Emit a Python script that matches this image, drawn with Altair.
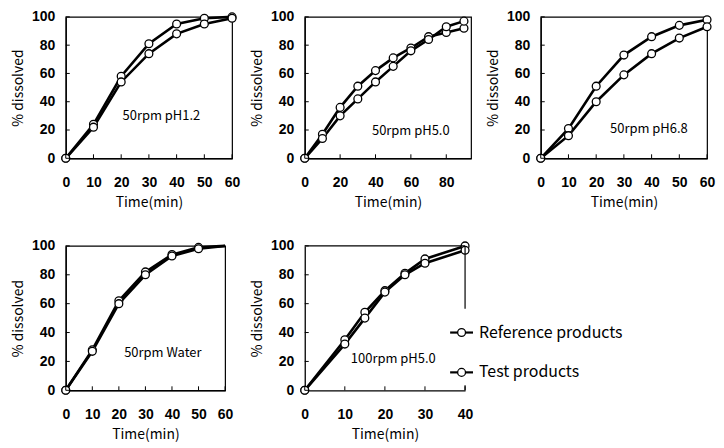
import altair as alt
import pandas as pd

# ---------------- data ----------------
series_names = ["Reference products", "Test products"]

p1_time = [0, 10, 20, 30, 40, 50, 60]
p1_ref = [0, 24, 58, 81, 95, 99, 100]
p1_test = [0, 22, 54, 74, 88, 95, 99]

p2_time = [0, 10, 20, 30, 40, 50, 60, 70, 80, 90]
p2_ref = [0, 17, 36, 51, 62, 71, 78, 86, 89, 92]
p2_test = [0, 14, 30, 42, 54, 65, 76, 84, 93, 97]

p3_time = [0, 10, 20, 30, 40, 50, 60]
p3_ref = [0, 21, 51, 73, 86, 94, 98]
p3_test = [0, 16, 40, 59, 74, 85, 93]

p4_time = [0, 10, 20, 30, 40, 50, 60]
p4_ref = [0, 28, 62, 82, 94, 99, 100]
p4_test = [0, 27, 60, 80, 93, 98, 100]

p5_time = [0, 10, 15, 20, 25, 30, 40]
p5_ref = [0, 35, 54, 69, 81, 91, 100]
p5_test = [0, 32, 50, 68, 80, 88, 97]

panel_labels = ["50rpm  pH1.2", "50rpm  pH5.0", "50rpm  pH6.8", "50rpm  Water", "100rpm  pH5.0"]
x_ticks_60 = [0, 10, 20, 30, 40, 50, 60]
x_ticks_90 = [0, 20, 40, 60, 80]
x_ticks_40 = [0, 10, 20, 30, 40]
y_ticks = [0, 20, 40, 60, 80, 100]

LABEL_FONT = "Liberation Sans"
TEXT_FONT = "Noto Sans CJK JP"


def panel(time, ref, test, xdom, xticks, label, lx, ly, w, h,
          marker_max=None, frame=True):
    rows = []
    for name, vals in zip(series_names, [ref, test]):
        for t, v in zip(time, vals):
            rows.append({"time": t, "pct": v, "series": name})
    df = pd.DataFrame(rows)
    xs = alt.Scale(domain=xdom, nice=False, zero=False)
    ys = alt.Scale(domain=[0, 100], nice=False)
    xax = alt.Axis(values=xticks, title="Time(min)", format="d",
                   labelOverlap=False, labelBound=False, labelFlush=False)
    yax = alt.Axis(values=y_ticks, title="% dissolved", format="d",
                   labelOverlap=False, labelBound=False, labelFlush=False)
    x = alt.X("time:Q", scale=xs, axis=xax)
    y = alt.Y("pct:Q", scale=ys, axis=yax)
    base = alt.Chart(df)
    line = base.mark_line(color="black", strokeWidth=2.6).encode(
        x=x, y=y, detail="series:N")
    pts_src = base
    if marker_max is not None:
        pts_src = base.transform_filter(f"datum.time < {marker_max}")
    pts = pts_src.mark_point(shape="circle", filled=True, fill="white",
                             stroke="black", strokeWidth=1.3, size=62,
                             opacity=1).encode(x=x, y=y)
    xt = alt.Chart(pd.DataFrame({"time": xticks})).mark_rule(
        color="black", strokeWidth=1).encode(
        x=x, y=alt.value(h), y2=alt.value(h - 4))
    yt = alt.Chart(pd.DataFrame({"pct": y_ticks})).mark_rule(
        color="black", strokeWidth=1).encode(
        y=y, x=alt.value(0), x2=alt.value(4))
    txt = alt.Chart(pd.DataFrame({"time": [lx], "pct": [ly], "label": [label]})).mark_text(
        align="left", baseline="middle", font=TEXT_FONT, fontSize=13,
        color="black").encode(x=x, y=y, text="label:N")
    layers = [line, pts, xt, yt, txt]
    props = dict(width=w, height=h)
    if not frame:
        props["view"] = alt.ViewBackground(strokeOpacity=0)
    return layers, props


W1 = 167
l1, pr1 = panel(p1_time, p1_ref, p1_test, [0, 60], x_ticks_60, panel_labels[0], 20.5, 30, W1, 142)
l2, pr2 = panel(p2_time, p2_ref, p2_test, [0, 94], x_ticks_90, panel_labels[1], 38, 19.5, W1, 142)
l3, pr3 = panel(p3_time, p3_ref, p3_test, [0, 60], x_ticks_60, panel_labels[2], 25, 21, W1, 142)
W5, H5 = 161, 145
l4, pr4 = panel(p4_time, p4_ref, p4_test, [0, 60], x_ticks_60, panel_labels[3], 22, 26, 160, H5,
                marker_max=60)
l5, pr5 = panel(p5_time, p5_ref, p5_test, [0, 40], x_ticks_40, panel_labels[4], 11.5, 22, W5, H5,
                frame=False)

# partial frame for panel 5 (right side interrupted by the legend)
frame5 = [
    alt.Chart().mark_rule(color="black", strokeWidth=1.2).encode(
        x=alt.value(0), x2=alt.value(W5), y=alt.value(0)),
    alt.Chart().mark_rule(color="black", strokeWidth=1.2).encode(
        x=alt.value(W5), y=alt.value(0), y2=alt.value(63)),
    alt.Chart().mark_rule(color="black", strokeWidth=1.2).encode(
        x=alt.value(W5), y=alt.value(H5 - 5), y2=alt.value(H5)),
]

# legend drawn inside panel 5, to the right of the plot
legend_layers = []
for i, name in enumerate(series_names):
    yy = 87 + 40 * i
    legend_layers.append(alt.Chart().mark_rule(color="black", strokeWidth=2.2).encode(
        x=alt.value(W5 - 15), x2=alt.value(W5 + 8), y=alt.value(yy)))
    legend_layers.append(alt.Chart().mark_point(
        shape="circle", filled=True, fill="white", stroke="black",
        strokeWidth=1.3, size=62, opacity=1).encode(
        x=alt.value(W5 - 3.5), y=alt.value(yy)))
    legend_layers.append(alt.Chart().mark_text(
        align="left", baseline="middle", font=TEXT_FONT, fontSize=16,
        color="black").encode(x=alt.value(W5 + 14), y=alt.value(yy),
                              text=alt.value(name)))

c1 = alt.layer(*l1).properties(**pr1)
c2 = alt.layer(*l2).properties(**pr2)
c3 = alt.layer(*l3).properties(**pr3)
c4 = alt.layer(*l4).properties(**pr4)
c5 = alt.layer(*(l5 + frame5 + legend_layers)).properties(**pr5)

row1 = alt.hconcat(alt.hconcat(c1, c2, spacing=9), c3, spacing=14)
row2 = alt.hconcat(c4, c5, spacing=16)

chart = alt.vconcat(row1, row2, spacing=28).properties(
    padding={"left": 3, "top": 0, "right": 0, "bottom": 0}
).configure_view(
    stroke="black", strokeWidth=1.2
).configure_axis(
    grid=False, ticks=False, labelOverlap=False,
    domainColor="black", domainWidth=1.3,
    labelFont=LABEL_FONT, labelFontSize=14, labelColor="black",
    labelFontWeight="bold",
    titleFont=TEXT_FONT, titleFontSize=14, titleFontWeight=400,
    titleColor="black",
).configure_axisX(
    titlePadding=6, labelPadding=17
).configure_axisY(
    titlePadding=6, labelPadding=11
)

chart.save("out.html", embed_options={"renderer": "svg", "actions": False})
